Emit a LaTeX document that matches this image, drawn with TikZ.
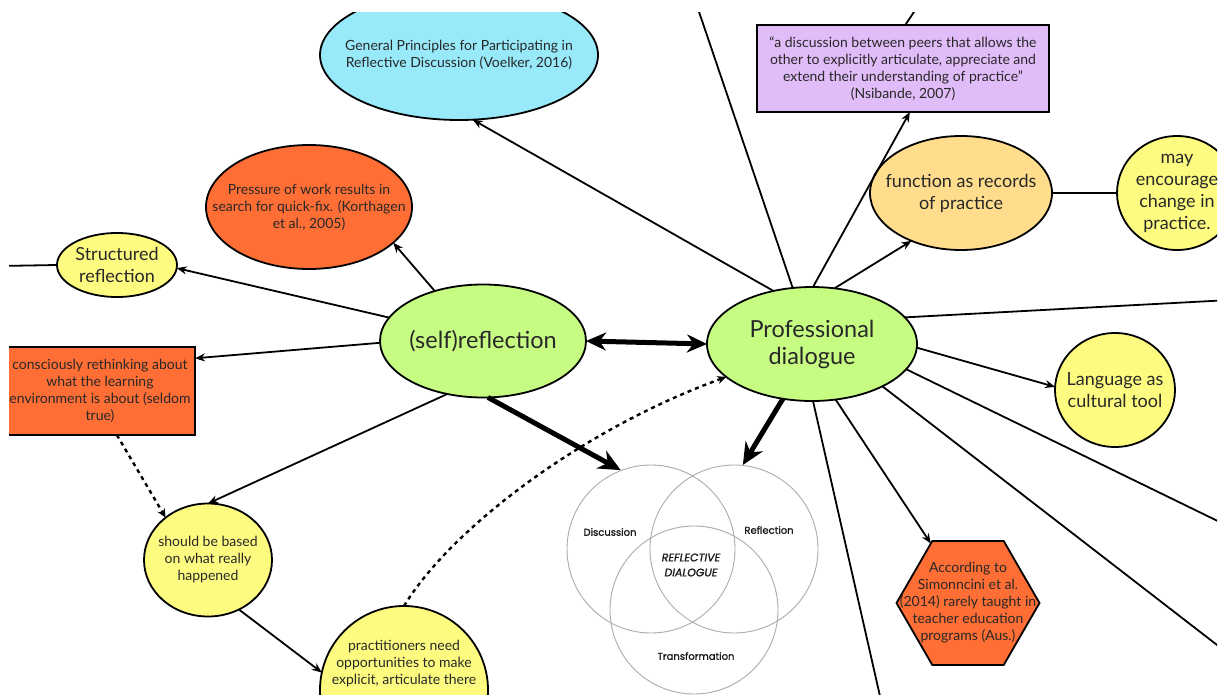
\documentclass[tikz,border=0pt]{standalone}
\usepackage{fontspec}
\setmainfont{Lato}
\newfontfamily\vennfont{Poppins}[FakeBold=1.2]
\usetikzlibrary{shapes.geometric,arrows.meta}
\definecolor{blueC}{RGB}{152,233,250}
\definecolor{orangeC}{RGB}{255,110,52}
\definecolor{yellowC}{RGB}{253,252,128}
\definecolor{greenC}{RGB}{198,252,130}
\definecolor{purpleC}{RGB}{224,188,248}
\definecolor{peachC}{RGB}{255,221,140}
\definecolor{txtc}{RGB}{40,40,40}
\begin{document}
\begin{tikzpicture}[x=1pt,y=-1pt,
  shp/.style={draw=black,line width=1.8pt,inner sep=0pt,outer sep=0pt},
  ell/.style={shp,ellipse},
  txt/.style={align=center,text=txtc,inner sep=0pt},
  fsmall/.style={font=\fontsize{14}{17}\selectfont},
  fmid/.style={font=\fontsize{18}{22}\selectfont},
  fbig/.style={font=\fontsize{23.5}{27}\selectfont},
  conn/.style={line width=1.8pt,-{Stealth[length=10pt,width=8pt]}},
  plain/.style={line width=1.8pt},
  bigarrow/.style={line width=5pt,-{Stealth[length=22pt,width=20pt]}},
  dbl/.style={line width=5pt,{Stealth[length=20pt,width=18pt]}-{Stealth[length=20pt,width=18pt]}},
  dotline/.style={line width=2.4pt,dash pattern=on 4pt off 4pt,-{Stealth[length=9pt,width=8pt]}},
  venn/.style={circle,draw=gray!65,line width=0.9pt,minimum size=168pt,inner sep=0pt},
  vtxt/.style={font=\vennfont\fontsize{10}{15}\selectfont,text=black!90,inner sep=0pt,align=center}
]
\useasboundingbox (0,0) rectangle (1220,695);
\fill[white] (0,0) rectangle (1220,695);
\clip (9,13) rectangle (1217,695);

% nodes
\node[ell,fill=blueC,minimum width=278pt,minimum height=130pt,label={[txt,fsmall]center:{General Principles for Participating in\\Reflective Discussion (Voelker, 2016)}}] (gp) at (459,55) {};
\node[ell,fill=orangeC,minimum width=206pt,minimum height=124pt,label={[txt,fsmall]center:{Pressure of work results in\\search for quick-fix. (Korthagen\\et al., 2005)}}] (pr) at (309,207) {};
\node[ell,fill=yellowC,minimum width=120pt,minimum height=64pt,label={[txt,fmid]center:{Structured\\reflection}}] (st) at (117,265) {};
\node[ell,fill=greenC,minimum width=206pt,minimum height=113pt,label={[txt,fbig]center:{(self)reflection}}] (sr) at (483,341) {};
\node[ell,fill=greenC,minimum width=210pt,minimum height=114pt,label={[txt,fbig]center:{Professional\\dialogue}}] (pd) at (812,344) {};
\node[shp,rectangle,fill=orangeC,minimum width=190pt,minimum height=88pt,label={[txt,fsmall]center:{consciously rethinking about\\what the learning\\environment is about (seldom\\true)}}] (cr) at (100,391) {};
\node[ell,fill=yellowC,minimum width=128pt,minimum height=113pt,label={[txt,fsmall]center:{should be based\\on what really\\happened}}] (sb) at (208,560) {};
\node[ell,fill=yellowC,minimum width=168pt,minimum height=168pt] (pn) at (404,690) {};
\node[txt,fsmall,anchor=north] (pntxt) at (404,640) {practitioners need\\opportunities to make\\explicit, articulate there};
\node[shp,rectangle,fill=purpleC,minimum width=292pt,minimum height=87pt,label={[txt,fsmall]center:{“a discussion between peers that allows the\\other to explicitly articulate, appreciate and\\extend their understanding of practice”\\(Nsibande, 2007)}}] (pu) at (903,68.5) {};
\node[ell,fill=peachC,minimum width=182pt,minimum height=114pt,label={[txt,fmid]center:{function as records\\of practice}}] (fn) at (961,193) {};
\node[ell,fill=yellowC,minimum width=120pt,minimum height=114pt,label={[txt,fmid]center:{may\\encourage\\change in\\practice.}}] (me) at (1177,193) {};
\node[ell,fill=yellowC,minimum width=120pt,minimum height=114pt,label={[txt,fmid]center:{Language as\\cultural tool}}] (la) at (1115,390) {};
\node[shp,regular polygon,regular polygon sides=6,fill=orangeC,minimum size=143pt,label={[txt,fsmall]center:{According to\\Simonncini et al.\\(2014) rarely taught in\\teacher education\\programs (Aus.)}}] (hx) at (968,603) {};

% Venn diagram
\node[venn] (vl) at (651,549) {};
\node[venn] (vr) at (734,549) {};
\node[venn] (vb) at (694,610) {};
\node[vtxt] (t1) at (610,532) {Discussion};
\node[vtxt] (t2) at (769,530) {Reflection};
\node[vtxt,font=\vennfont\itshape\fontsize{11}{15}\selectfont] (t3) at (691,565) {REFLECTIVE\\DIALOGUE};
\node[vtxt] (t4) at (696,656) {Transformation};

% free ends
\coordinate (e1) at (0,266);
\coordinate (e2) at (695,0);
\coordinate (e3) at (922,0);
\coordinate (e4) at (1230,300);
\coordinate (e5) at (1230,527);
\coordinate (e6) at (1230,655);
\coordinate (e7) at (882,705);

% connectors
\draw[plain] (st.west) -- (e1);
\draw[conn] (sr.134) -- (pr.-23);
\draw[conn] (sr.166) -- (st.-3);
\draw[conn] (sr.181) -- (cr.19);
\draw[conn] (sr.236) -- (sb.north);
\draw[bigarrow] (sr.275) -- (vl.111);
\draw[dbl] (sr.east) -- (pd.west);
\draw[dotline] (cr.-69) -- (sb.135);
\draw[conn] (sb.-58) -- (pn.168);
\draw[dotline] (pn.north) .. controls (450,530) and (580,430) .. (pd.201);
\draw[conn] (pd.126) -- (gp.-78);
\draw[plain] (pd.109) -- (e2);
\draw[conn] (pd.89) -- (pu.-81);
\draw[plain] (pu.87) -- (e3);
\draw[conn] (pd.68) -- (fn.224);
\draw[plain] (fn.east) -- (me.west);
\draw[plain] (pd.16) -- (e4);
\draw[conn] (pd.-2) -- (la.177);
\draw[plain] (pd.-15) -- (e5);
\draw[plain] (pd.-31) -- (e6);
\draw[conn] (pd.-67) -- (hx.122);
\draw[plain] (pd.-89) -- (e7);
\draw[bigarrow] (pd.-118) -- (vr.84);
\end{tikzpicture}
\end{document}
